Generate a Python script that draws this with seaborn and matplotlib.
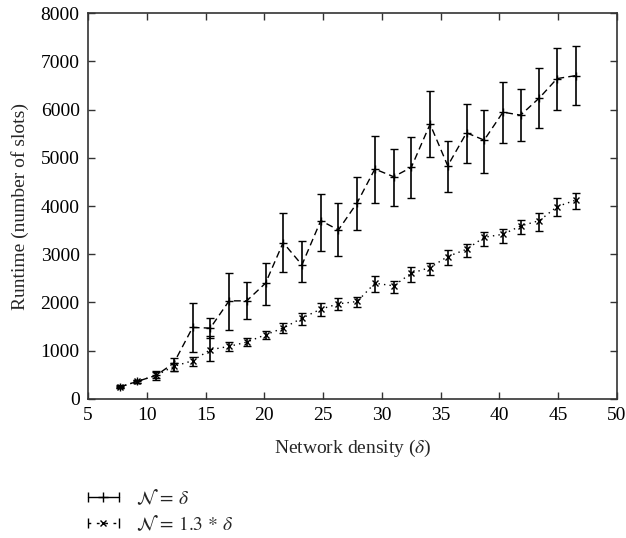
import numpy as np
import pandas as pd
import matplotlib
matplotlib.use("Agg")
import matplotlib.pyplot as plt
import seaborn as sns
from matplotlib.lines import Line2D
from matplotlib.legend_handler import HandlerLine2D, HandlerTuple

# network density values (x axis)
density = [7.7, 9.2, 10.8, 12.3, 13.9, 15.4, 17.0, 18.5, 20.1, 21.6, 23.2, 24.8, 26.3,
           27.9, 29.4, 31.0, 32.5, 34.1, 35.6, 37.2, 38.7, 40.3, 41.8, 43.4, 44.9, 46.5]

# N = delta
runtime_a = [248, 365, 490, 745, 1483, 1469, 2034, 2034, 2400, 3241, 2779, 3697, 3503,
             4069, 4766, 4607, 4800, 5697, 4834, 5517, 5366, 5945, 5883, 6241, 6641, 6703]
low_a = [220, 330, 393, 570, 972, 1262, 1434, 1655, 1952, 2628, 2434, 3076, 2966,
         3503, 4055, 4007, 4166, 5007, 4297, 4897, 4690, 5297, 5345, 5614, 6000, 6103]
high_a = [280, 400, 590, 850, 1986, 1676, 2620, 2428, 2828, 3862, 3283, 4248, 4069,
          4607, 5455, 5179, 5434, 6393, 5345, 6124, 6000, 6566, 6421, 6862, 7276, 7310]

# N = 1.3 * delta
runtime_b = [248, 365, 490, 676, 793, 1021, 1090, 1179, 1331, 1469, 1676, 1862, 1972,
             2021, 2400, 2345, 2607, 2724, 2952, 3103, 3352, 3414, 3586, 3697, 3986, 4124]
low_b = [225, 340, 430, 572, 690, 779, 986, 1090, 1241, 1365, 1538, 1710, 1848,
         1903, 2214, 2207, 2434, 2572, 2779, 2952, 3172, 3241, 3414, 3483, 3793, 3938]
high_b = [275, 390, 560, 745, 869, 1297, 1172, 1262, 1400, 1572, 1779, 1986, 2090,
          2110, 2552, 2448, 2745, 2828, 3090, 3214, 3469, 3517, 3710, 3862, 4172, 4276]

df = pd.DataFrame({"density": density, "a": runtime_a, "b": runtime_b})

sns.set_style("ticks")
plt.rcParams["font.family"] = ["Liberation Serif", "DejaVu Serif"]
plt.rcParams["mathtext.fontset"] = "stix"

fig = plt.figure(figsize=(6.26, 5.38), dpi=100)
ax = fig.add_axes([0.1406, 0.2584, 0.8450, 0.7174])

sns.lineplot(data=df, x="density", y="a", ax=ax, color="black", lw=1.0,
             linestyle=(0, (5, 3)))
sns.lineplot(data=df, x="density", y="b", ax=ax, color="black", lw=1.0,
             linestyle=(0, (1, 3)))

ya = np.array(runtime_a)
yb = np.array(runtime_b)
ax.errorbar(density, ya, yerr=[ya - np.array(low_a), np.array(high_a) - ya],
            fmt="+", color="black", ms=6, mew=1.0, elinewidth=1.2, capsize=3, capthick=1.0)
ax.errorbar(density, yb, yerr=[yb - np.array(low_b), np.array(high_b) - yb],
            fmt="x", color="black", ms=4.5, mew=1.0, elinewidth=1.2, capsize=3, capthick=1.0)

ax.set_xlim(5, 50)
ax.set_ylim(0, 8000)
ax.set_xticks(range(5, 51, 5))
ax.set_yticks(range(0, 8001, 1000))
ax.tick_params(direction="in", top=True, right=True, length=5, width=1,
               labelsize=14, colors="#333333", labelcolor="black", pad=6)
for sp in ax.spines.values():
    sp.set_color("#333333")
    sp.set_linewidth(1.2)

ax.set_xlabel(r"Network density ($\delta$)", fontsize=14, labelpad=10)
ax.set_ylabel("Runtime (number of slots)", fontsize=14, labelpad=8)

# legend handles drawn like gnuplot error bar keys
cap_a = Line2D([], [], color="black", lw=1.0, marker="|", ms=7, mew=1.0)
mk_a = Line2D([], [], color="black", lw=0, marker="+", ms=7, mew=1.0)
cap_b = Line2D([], [], color="black", lw=1.0, linestyle=(0, (2, 4)), marker="|", ms=7, mew=1.0)
mk_b = Line2D([], [], color="black", lw=0, marker="x", ms=5, mew=1.0)
fig.legend([(cap_a, mk_a), (cap_b, mk_b)],
           [r"$\mathcal{N}\,=\,\delta$", r"$\mathcal{N}\,=\,1.3\,*\,\delta$"],
           handler_map={cap_a: HandlerLine2D(numpoints=2), cap_b: HandlerLine2D(numpoints=2),
                        tuple: HandlerTuple(ndivide=1, pad=0)},
           loc="upper left", bbox_to_anchor=(0.131, 0.092), frameon=False,
           fontsize=14, handlelength=2.2, handletextpad=0.6, labelspacing=0.3,
           borderaxespad=0, borderpad=0)

fig.savefig("out.png", dpi=100)
